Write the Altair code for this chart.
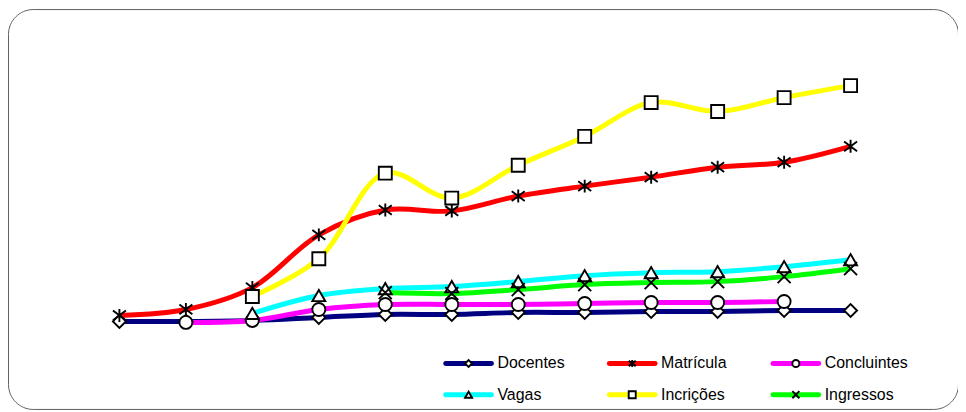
import altair as alt
import pandas as pd

# ---------------- data ----------------
periodos = list(range(1, 13))
series = ["Docentes", "Matrícula", "Concluintes", "Vagas", "Incrições", "Ingressos"]
cores = ["#000080", "#FF0000", "#FF00FF", "#00FFFF", "#FFFF00", "#00FF00"]

docentes    = [800, 800, 900, 1200, 1500, 1500, 1700, 1700, 1800, 1800, 1900, 1900]
matricula   = [1400, 2000, 4200, 9500, 12000, 11900, 13400, 14400, 15300, 16300, 16800, 18400]
concluintes = [None, 700, 900, 2000, 2500, 2500, 2500, 2600, 2700, 2700, 2800, None]
vagas       = [None, None, 1600, 3400, 4100, 4300, 4800, 5400, 5700, 5800, 6300, 7000]
incricoes   = [None, None, 3300, 7100, 15700, 13200, 16500, 19400, 22800, 21900, 23300, 24500]
ingressos   = [None, None, None, None, 3700, 3600, 4000, 4500, 4700, 4800, 5300, 6100]

valores = [docentes, matricula, concluintes, vagas, incricoes, ingressos]

# ---------------- styles ----------------
ASTER = "M-1,-0.75L1,0.75M-1,0.75L1,-0.75M0,-1L0,1"
XMARK = "M-1,-1L1,1M-1,1L1,-1"
formas = ["diamond", ASTER, "circle", "triangle-up", "square", XMARK]
FONT = "Liberation Sans"

rows = []
for k, (nome, vals) in enumerate(zip(series, valores)):
    for p, v in zip(periodos, vals):
        if v is not None:
            rows.append({"serie": nome, "ordem": k, "periodo": p, "valor": v})
df = pd.DataFrame(rows)
leg_df = pd.DataFrame({"serie": series})

# ---------------- layout ----------------
W, H = 955, 402
X_LEFT, X_STEP = 112, 66.82
x_dom = [1 - X_LEFT / X_STEP, 1 + (W - X_LEFT) / X_STEP]
Y_ZERO, Y_UNIT = 322, 100.0
y_dom = [-(H - Y_ZERO) * Y_UNIT, Y_ZERO * Y_UNIT]

LX0, LDX = 463, 164.5
LY0, LDY = 356.3, 31.4
lx_dom = [-LX0 / LDX, (W - LX0) / LDX]
ly_dom = [-LY0 / LDY, (H - LY0) / LDY]

color = alt.Color("serie:N", scale=alt.Scale(domain=series, range=cores), legend=None)
shape = alt.Shape("serie:N", scale=alt.Scale(domain=series, range=formas), legend=None)

x = alt.X("periodo:Q", scale=alt.Scale(domain=x_dom, nice=False, zero=False), axis=None)
y = alt.Y("valor:Q", scale=alt.Scale(domain=y_dom, nice=False, zero=False), axis=None)

base = alt.Chart(df)
lines = base.mark_line(strokeWidth=5, interpolate="catmull-rom").encode(
    x=x, y=y, color=color, order="periodo:Q"
)
points = base.mark_point(
    filled=True, fill="white", stroke="black", strokeWidth=1.9, opacity=1, size=170
).encode(x=x, y=y, shape=shape)
main = alt.layer(lines, points)

lbase = alt.Chart(leg_df).transform_window(
    i="row_number()"
).transform_calculate(
    col="(datum.i - 1) % 3", row="floor((datum.i - 1) / 3)"
)
lx = alt.X("col:Q", scale=alt.Scale(domain=lx_dom, nice=False, zero=False), axis=None)
lx2 = alt.X2("col:Q")
ly = alt.Y("row:Q", scale=alt.Scale(domain=ly_dom, nice=False, zero=False, reverse=True), axis=None)

leg_lines = lbase.mark_rule(strokeWidth=5, xOffset=-23, x2Offset=23, strokeCap="round").encode(
    x=lx, x2=lx2, y=ly, color=color
)
leg_pts = lbase.mark_point(
    filled=True, fill="white", stroke="black", strokeWidth=1.9, opacity=1, size=50
).encode(x=lx, y=ly, shape=shape)
leg_txt = lbase.mark_text(
    align="left", baseline="middle", dx=29, font=FONT, fontSize=16, color="black"
).encode(x=lx, y=ly, text="serie:N")
legend = alt.layer(leg_lines, leg_pts, leg_txt)

chart = alt.layer(main, legend).resolve_scale(
    x="independent", y="independent"
).properties(
    width=W, height=H, padding=0, autosize=alt.AutoSizeParams(type="none")
).configure_view(
    stroke="#606060", strokeWidth=1, cornerRadius=25, fill="white"
)

chart.save("out.html", embed_options={"renderer": "svg", "actions": False})
